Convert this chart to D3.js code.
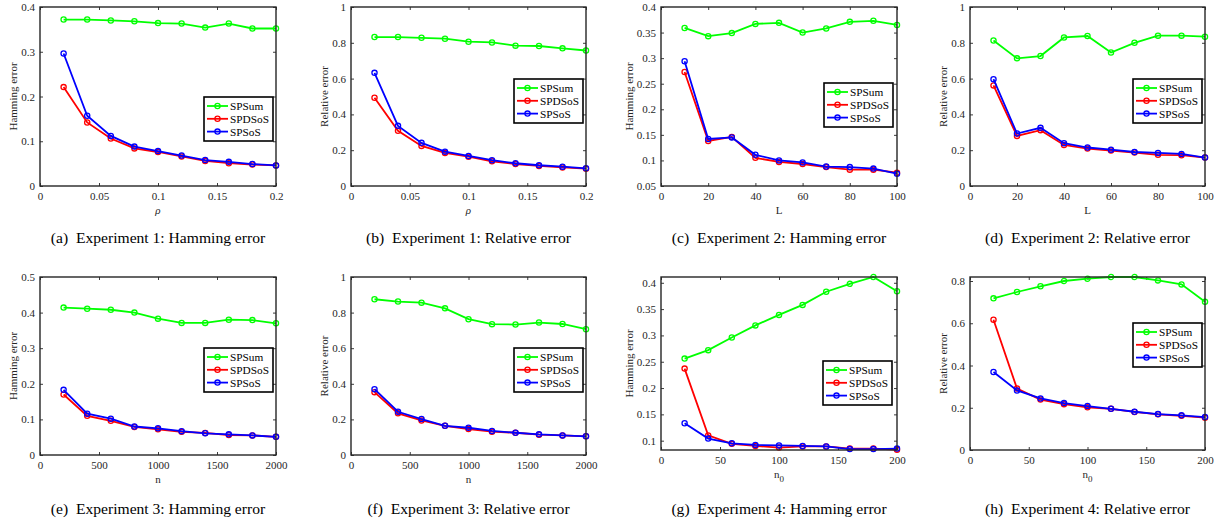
<!DOCTYPE html>
<html>
<head>
<meta charset="utf-8">
<script src="https://cdn.jsdelivr.net/npm/d3@7"></script>
<style>
	body { margin: 0; background: #fff; }
	svg { display: block; font-family: 'Liberation Serif', 'Times New Roman', serif; }
	.caption { white-space: pre; }
</style>
</head>
<body>
<div id="chart"></div>
<script>
// Values, one array per series.
var seriesNames = [ 'SPSum', 'SPDSoS', 'SPSoS' ];

// Experiment 1: rho.
var rhoValues = [ 0.02, 0.04, 0.06, 0.08, 0.1, 0.12, 0.14, 0.16, 0.18, 0.2 ];
var exp1HamSum = [ 0.372, 0.372, 0.370, 0.368, 0.364, 0.363, 0.354, 0.363, 0.352, 0.352 ];
var exp1HamDSoS = [ 0.221, 0.142, 0.106, 0.084, 0.076, 0.066, 0.056, 0.051, 0.048, 0.046 ];
var exp1HamSoS = [ 0.296, 0.157, 0.112, 0.088, 0.078, 0.068, 0.058, 0.054, 0.049, 0.046 ];
var exp1RelSum = [ 0.832, 0.832, 0.828, 0.823, 0.806, 0.802, 0.784, 0.782, 0.769, 0.757 ];
var exp1RelDSoS = [ 0.493, 0.308, 0.224, 0.185, 0.164, 0.138, 0.123, 0.112, 0.104, 0.097 ];
var exp1RelSoS = [ 0.632, 0.336, 0.241, 0.192, 0.168, 0.144, 0.127, 0.116, 0.108, 0.099 ];

// Experiment 2: L.
var lValues = [ 10, 20, 30, 40, 50, 60, 70, 80, 90, 100 ];
var exp2HamSum = [ 0.359, 0.343, 0.349, 0.367, 0.369, 0.350, 0.358, 0.371, 0.373, 0.365 ];
var exp2HamDSoS = [ 0.273, 0.138, 0.146, 0.105, 0.097, 0.093, 0.087, 0.082, 0.082, 0.076 ];
var exp2HamSoS = [ 0.294, 0.142, 0.145, 0.111, 0.100, 0.096, 0.088, 0.087, 0.084, 0.074 ];
var exp2RelSum = [ 0.813, 0.713, 0.726, 0.830, 0.838, 0.746, 0.800, 0.840, 0.840, 0.834 ];
var exp2RelDSoS = [ 0.562, 0.280, 0.312, 0.229, 0.209, 0.198, 0.187, 0.174, 0.172, 0.159 ];
var exp2RelSoS = [ 0.597, 0.293, 0.325, 0.239, 0.215, 0.203, 0.190, 0.185, 0.179, 0.159 ];

// Experiment 3: n.
var nValues = [ 200, 400, 600, 800, 1000, 1200, 1400, 1600, 1800, 2000 ];
var exp3HamSum = [ 0.414, 0.411, 0.408, 0.400, 0.383, 0.371, 0.371, 0.380, 0.379, 0.370 ];
var exp3HamDSoS = [ 0.170, 0.110, 0.096, 0.079, 0.072, 0.065, 0.062, 0.056, 0.055, 0.051 ];
var exp3HamSoS = [ 0.183, 0.116, 0.102, 0.080, 0.075, 0.067, 0.061, 0.058, 0.055, 0.051 ];
var exp3RelSum = [ 0.875, 0.862, 0.856, 0.824, 0.763, 0.735, 0.733, 0.744, 0.736, 0.707 ];
var exp3RelDSoS = [ 0.353, 0.234, 0.194, 0.164, 0.146, 0.131, 0.125, 0.114, 0.110, 0.105 ];
var exp3RelSoS = [ 0.370, 0.243, 0.202, 0.164, 0.153, 0.135, 0.125, 0.116, 0.110, 0.105 ];

// Experiment 4: n0.
var n0Values = [ 20, 40, 60, 80, 100, 120, 140, 160, 180, 200 ];
var exp4HamSum = [ 0.256, 0.272, 0.296, 0.319, 0.339, 0.358, 0.383, 0.398, 0.411, 0.384 ];
var exp4HamDSoS = [ 0.237, 0.110, 0.094, 0.090, 0.087, 0.089, 0.089, 0.085, 0.085, 0.083 ];
var exp4HamSoS = [ 0.133, 0.104, 0.095, 0.092, 0.091, 0.090, 0.089, 0.084, 0.084, 0.085 ];
var exp4RelSum = [ 0.718, 0.748, 0.775, 0.800, 0.811, 0.819, 0.819, 0.803, 0.784, 0.702 ];
var exp4RelDSoS = [ 0.617, 0.291, 0.239, 0.217, 0.202, 0.195, 0.180, 0.169, 0.162, 0.153 ];
var exp4RelSoS = [ 0.369, 0.282, 0.244, 0.222, 0.208, 0.195, 0.181, 0.170, 0.164, 0.156 ];

// Tick values.
var rhoTicks = [ 0, 0.05, 0.1, 0.15, 0.2 ];
var lTicks = [ 0, 20, 40, 60, 80, 100 ];
var nTicks = [ 0, 500, 1000, 1500, 2000 ];
var n0Ticks = [ 0, 50, 100, 150, 200 ];
var ham04Ticks = [ 0, 0.1, 0.2, 0.3, 0.4 ];
var ham05Ticks = [ 0, 0.1, 0.2, 0.3, 0.4, 0.5 ];
var hamL = [ 0.05, 0.1, 0.15, 0.2, 0.25, 0.3, 0.35, 0.4 ];
var hamN0 = [ 0.1, 0.15, 0.2, 0.25, 0.3, 0.35, 0.4 ];
var relTicks = [ 0, 0.2, 0.4, 0.6, 0.8, 1 ];
var rel08Ticks = [ 0, 0.2, 0.4, 0.6, 0.8 ];

( function () {

	var colors = [ '#00ff00', '#ff0000', '#0000ff' ];
	var axisColor = '#262626';

	// Layout for each small chart, in page pixels.
	var panels = [
		{ x: 40, y: 7, w: 236, h: 179, xs: rhoValues, xDomain: [ 0, 0.2 ], yDomain: [ 0, 0.4 ], xTicks: rhoTicks, yTicks: ham04Ticks,
			data: [ exp1HamSum, exp1HamDSoS, exp1HamSoS ], yLabel: 'Hamming error', xLabel: 'rho', caption: '(a)  Experiment 1: Hamming error', legend: [ 204, 97 ] },
		{ x: 351, y: 7, w: 235, h: 179, xs: rhoValues, xDomain: [ 0, 0.2 ], yDomain: [ 0, 1 ], xTicks: rhoTicks, yTicks: relTicks,
			data: [ exp1RelSum, exp1RelDSoS, exp1RelSoS ], yLabel: 'Relative error', xLabel: 'rho', caption: '(b)  Experiment 1: Relative error', legend: [ 514, 79 ] },
		{ x: 661, y: 7, w: 236, h: 179, xs: lValues, xDomain: [ 0, 100 ], yDomain: [ 0.05, 0.4 ], xTicks: lTicks, yTicks: hamL,
			data: [ exp2HamSum, exp2HamDSoS, exp2HamSoS ], yLabel: 'Hamming error', xLabel: 'L', caption: '(c)  Experiment 2: Hamming error', legend: [ 824, 83 ] },
		{ x: 970, y: 7, w: 235, h: 179, xs: lValues, xDomain: [ 0, 100 ], yDomain: [ 0, 1 ], xTicks: lTicks, yTicks: relTicks,
			data: [ exp2RelSum, exp2RelDSoS, exp2RelSoS ], yLabel: 'Relative error', xLabel: 'L', caption: '(d)  Experiment 2: Relative error', legend: [ 1133, 79 ] },
		{ x: 40, y: 277, w: 236, h: 178, xs: nValues, xDomain: [ 0, 2000 ], yDomain: [ 0, 0.5 ], xTicks: nTicks, yTicks: ham05Ticks,
			data: [ exp3HamSum, exp3HamDSoS, exp3HamSoS ], yLabel: 'Hamming error', xLabel: 'n', caption: '(e)  Experiment 3: Hamming error', legend: [ 204, 348 ] },
		{ x: 351, y: 277, w: 235, h: 178, xs: nValues, xDomain: [ 0, 2000 ], yDomain: [ 0, 1 ], xTicks: nTicks, yTicks: relTicks,
			data: [ exp3RelSum, exp3RelDSoS, exp3RelSoS ], yLabel: 'Relative error', xLabel: 'n', caption: '(f)  Experiment 3: Relative error', legend: [ 514, 348 ] },
		{ x: 661, y: 277, w: 236, h: 173, xs: n0Values, xDomain: [ 0, 200 ], yDomain: [ 0.0823, 0.411 ], xTicks: n0Ticks, yTicks: hamN0,
			data: [ exp4HamSum, exp4HamDSoS, exp4HamSoS ], yLabel: 'Hamming error', xLabel: 'n0', caption: '(g)  Experiment 4: Hamming error', legend: [ 823, 361 ] },
		{ x: 970, y: 277, w: 235, h: 173, xs: n0Values, xDomain: [ 0, 200 ], yDomain: [ 0, 0.819 ], xTicks: n0Ticks, yTicks: rel08Ticks,
			data: [ exp4RelSum, exp4RelDSoS, exp4RelSoS ], yLabel: 'Relative error', xLabel: 'n0', caption: '(h)  Experiment 4: Relative error', legend: [ 1133, 323 ] }
	];

	var fmt = function ( d ) { return String( +d.toFixed( 6 ) ); };

	var svg = d3.select( '#chart' ).append( 'svg' )
		.attr( 'width', 1223 )
		.attr( 'height', 523 );

	svg.append( 'rect' ).attr( 'width', 1223 ).attr( 'height', 523 ).attr( 'fill', '#fff' );

	panels.forEach( function ( p ) {

		var g = svg.append( 'g' ).attr( 'transform', 'translate( ' + p.x + ', ' + p.y + ' )' );

		var xScale = d3.scaleLinear().domain( p.xDomain ).range( [ 0, p.w ] );
		var yScale = d3.scaleLinear().domain( p.yDomain ).range( [ p.h, 0 ] );

		// Bottom and left axes with labels, ticks pointing inward.
		var xAxis = g.append( 'g' )
			.attr( 'transform', 'translate( 0, ' + p.h + ' )' )
			.call( d3.axisBottom( xScale ).tickValues( p.xTicks ).tickFormat( fmt ).tickSizeInner( -3 ).tickSizeOuter( 0 ).tickPadding( 6 ) );

		var yAxis = g.append( 'g' )
			.call( d3.axisLeft( yScale ).tickValues( p.yTicks ).tickFormat( fmt ).tickSizeInner( -3 ).tickSizeOuter( 0 ).tickPadding( 5 ) );

		// Top and right ticks, no labels.
		var topAxis = g.append( 'g' )
			.call( d3.axisTop( xScale ).tickValues( p.xTicks ).tickFormat( '' ).tickSizeInner( -3 ).tickSizeOuter( 0 ) );

		var rightAxis = g.append( 'g' )
			.attr( 'transform', 'translate( ' + p.w + ', 0 )' )
			.call( d3.axisRight( yScale ).tickValues( p.yTicks ).tickFormat( '' ).tickSizeInner( -3 ).tickSizeOuter( 0 ) );

		[ xAxis, yAxis, topAxis, rightAxis ].forEach( function ( a ) {
			a.select( '.domain' ).remove();
			a.selectAll( 'line' ).attr( 'stroke', axisColor ).attr( 'stroke-width', 0.9 );
			a.selectAll( 'text' ).attr( 'fill', axisColor ).style( 'font-family', 'Liberation Serif' ).style( 'font-size', '11px' );
		} );

		// The lines and their open circle markers.
		p.data.forEach( function ( values, i ) {

			var points = values.map( function ( v, j ) { return { x: p.xs[j], y: v }; } );

			var line = d3.line()
				.x( function ( d ) { return xScale( d.x ); } )
				.y( function ( d ) { return yScale( d.y ); } );

			g.append( 'path' )
				.datum( points )
				.attr( 'd', line )
				.attr( 'fill', 'none' )
				.attr( 'stroke', colors[i] )
				.attr( 'stroke-width', 1.8 );

			g.selectAll( 'circle.s' + i )
				.data( points )
				.enter()
				.append( 'circle' )
				.attr( 'class', 's' + i )
				.attr( 'cx', function ( d ) { return xScale( d.x ); } )
				.attr( 'cy', function ( d ) { return yScale( d.y ); } )
				.attr( 'r', 2.6 )
				.attr( 'fill', 'none' )
				.attr( 'stroke', colors[i] )
				.attr( 'stroke-width', 1.3 );

		} );

		// Box around the plot area.
		g.append( 'rect' )
			.attr( 'width', p.w )
			.attr( 'height', p.h )
			.attr( 'fill', 'none' )
			.attr( 'stroke', axisColor )
			.attr( 'stroke-width', 1.4 );

		// Y label sits left of the tick labels.
		var yBox = yAxis.node().getBBox();
		g.append( 'text' )
			.attr( 'transform', 'translate( ' + ( yBox.x - 4 ) + ', ' + ( p.h / 2 ) + ' ) rotate( -90 )' )
			.attr( 'text-anchor', 'middle' )
			.attr( 'fill', axisColor )
			.style( 'font-size', '11px' )
			.text( p.yLabel );

		// X label.
		var xl = g.append( 'text' )
			.attr( 'x', p.w / 2 )
			.attr( 'y', p.h + 28 )
			.attr( 'text-anchor', 'middle' )
			.attr( 'fill', axisColor )
			.style( 'font-size', '11px' );

		if ( p.xLabel === 'rho' ) {
			xl.style( 'font-style', 'italic' ).text( '\u03c1' );
		} else if ( p.xLabel === 'n0' ) {
			xl.append( 'tspan' ).text( 'n' );
			xl.append( 'tspan' ).attr( 'dy', 4 ).style( 'font-size', '9px' ).text( '0' );
		} else {
			xl.text( p.xLabel );
		}

		// Caption under the chart.
		svg.append( 'text' )
			.attr( 'class', 'caption' )
			.attr( 'x', p.x + p.w / 2 )
			.attr( 'y', p.y < 100 ? 243 : 514 )
			.attr( 'text-anchor', 'middle' )
			.attr( 'fill', '#000' )
			.style( 'font-size', '15.6px' )
			.text( p.caption );

		// Legend box.
		var lg = svg.append( 'g' ).attr( 'transform', 'translate( ' + p.legend[0] + ', ' + p.legend[1] + ' )' );

		lg.append( 'rect' )
			.attr( 'width', 69 )
			.attr( 'height', 44 )
			.attr( 'fill', '#fff' )
			.attr( 'stroke', '#000' )
			.attr( 'stroke-width', 1.6 );

		seriesNames.forEach( function ( name, i ) {
			var yy = 9 + i * 12.8;
			lg.append( 'line' )
				.attr( 'x1', 3 ).attr( 'x2', 24 )
				.attr( 'y1', yy ).attr( 'y2', yy )
				.attr( 'stroke', colors[i] )
				.attr( 'stroke-width', 1.8 );
			lg.append( 'circle' )
				.attr( 'cx', 13.5 ).attr( 'cy', yy )
				.attr( 'r', 2.6 )
				.attr( 'fill', 'none' )
				.attr( 'stroke', colors[i] )
				.attr( 'stroke-width', 1.3 );
			lg.append( 'text' )
				.attr( 'x', 26 )
				.attr( 'y', yy + 4 )
				.attr( 'fill', '#000' )
				.style( 'font-size', '11.3px' )
				.text( name );
		} );

	} );

} )();
</script>
</body>
</html>
